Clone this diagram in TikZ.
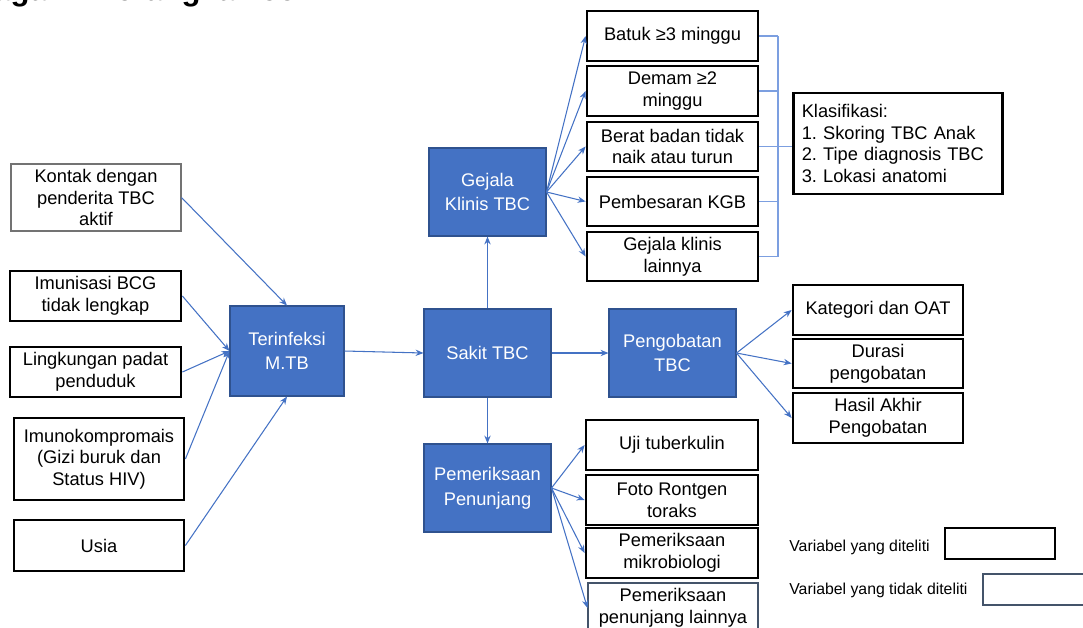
\documentclass[tikz,border=0pt]{standalone}
\usepackage{fontspec}
\setmainfont{Liberation Sans}
\frenchspacing
\definecolor{tbblue}{HTML}{4472C4}
\definecolor{tbedge}{HTML}{2F528F}
\definecolor{tbline}{HTML}{4472C4}
\definecolor{tbbracket}{HTML}{7C9FE0}
\definecolor{tbslate}{HTML}{44546A}
\usetikzlibrary{arrows.meta,positioning,calc}

\begin{document}
\begin{tikzpicture}[x=0.02cm, y=-0.02cm,
    varbox/.style={rectangle, draw=black, line width=1.6pt, fill=white, align=center,
      inner sep=1pt, font=\fontsize{10.4}{12.3}\selectfont},
    thinbox/.style={varbox, line width=0.6pt},
    bluebox/.style={rectangle, draw=tbedge, line width=0.6pt, fill=tbblue, align=center,
      text=white, minimum width=2.54cm, minimum height=1.76cm,
      font=\fontsize{10.4}{14}\selectfont},
    arrow/.style={-{Stealth[length=4.5pt, width=3.6pt]}, tbline, line width=0.6pt},
    bracket/.style={tbbracket, line width=0.6pt},
    legend/.style={font=\fontsize{9}{11}\selectfont, anchor=west, inner sep=0pt}
  ]
    \useasboundingbox (0,0) rectangle (1083,627);
    \clip (0,0) rectangle (1083,627);
    % Title, cut at the top edge
    \node[font=\bfseries\fontsize{17.7}{20}\selectfont, anchor=base east, inner sep=0pt]
      (title) at (318,0.5) {Bagan : Kerangka Teori};
    % Risk factors
    \node[thinbox, draw=black!55, minimum width=3.4cm, minimum height=1.34cm] (kontak) at (96,197.5)
      {Kontak dengan\\penderita TBC\\aktif};
    \node[varbox, minimum width=3.42cm, minimum height=1.0cm] (bcg) at (95.5,296)
      {Imunisasi BCG\\tidak lengkap};
    \node[varbox, minimum width=3.42cm, minimum height=1.0cm] (padat) at (95.5,372)
      {Lingkungan padat\\penduduk};
    \node[varbox, minimum width=3.4cm, minimum height=1.64cm] (imuno) at (99,459)
      {Imunokompromais\\(Gizi buruk dan\\Status HIV)};
    \node[varbox, minimum width=3.4cm, minimum height=1.02cm] (usia) at (99,545.5)
      {Usia};
    % Main chain
    \node[bluebox, minimum width=2.28cm, minimum height=1.8cm] (infeksi) at (287,351)
      {Terinfeksi\\M.TB};
    \node[bluebox] (sakit) at (487.5,353) {Sakit TBC};
    \node[bluebox, minimum width=2.34cm] (gejala) at (487.5,192) {Gejala\\Klinis TBC};
    \node[bluebox] (periksa) at (487.5,488) {Pemeriksaan\\Penunjang};
    \node[bluebox] (obat) at (672.5,353) {Pengobatan\\TBC};
    % Clinical signs
    \node[varbox, minimum width=3.42cm, minimum height=1.0cm] (batuk) at (672.5,36)
      {Batuk ≥3 minggu};
    \node[varbox, minimum width=3.42cm, minimum height=1.0cm] (demam) at (672.5,91)
      {Demam ≥2\\minggu};
    \node[varbox, minimum width=3.42cm, minimum height=0.98cm] (berat) at (672.5,146.5)
      {Berat badan tidak\\naik atau turun};
    \node[varbox, minimum width=3.42cm, minimum height=0.98cm] (kgb) at (672.5,201.5)
      {Pembesaran KGB};
    \node[varbox, minimum width=3.42cm, minimum height=0.98cm] (gejlain) at (672.5,256.5)
      {Gejala klinis\\lainnya};
    \node[varbox, align=left, text width=3.85cm, minimum height=2.02cm, inner sep=0.17cm]
      (klas) at (898,143.5)
      {Klasifikasi:\\1. Skoring TBC Anak\\2. Tipe diagnosis TBC\\3. Lokasi anatomi};
    % Treatment
    \node[varbox, minimum width=3.4cm, minimum height=1.0cm] (oat) at (878,310)
      {Kategori dan OAT};
    \node[varbox, minimum width=3.4cm, minimum height=0.98cm] (durasi) at (878,363.5)
      {Durasi\\pengobatan};
    \node[varbox, minimum width=3.4cm, minimum height=1.0cm] (hasil) at (878,418)
      {Hasil Akhir\\Pengobatan};
    % Supporting tests
    \node[varbox, minimum width=3.44cm, minimum height=1.0cm] (uji) at (672,445)
      {Uji tuberkulin};
    \node[varbox, minimum width=3.44cm, minimum height=1.0cm] (foto) at (672,500)
      {Foto Rontgen\\toraks};
    \node[varbox, minimum width=3.44cm, minimum height=1.0cm] (mikro) at (672,553)
      {Pemeriksaan\\mikrobiologi};
    \node[thinbox, draw=tbslate, minimum width=3.4cm, minimum height=1.0cm] (periklain) at (673,608)
      {Pemeriksaan\\penunjang lainnya};
    % Legend
    \node[legend] (legteliti) at (789,547) {Variabel yang diteliti};
    \node[varbox, minimum width=2.2cm, minimum height=0.62cm] (legbox) at (1000,543.5) {};
    \node[legend] (legtidak) at (789,590) {Variabel yang tidak diteliti};
    \node[thinbox, draw=tbslate, minimum width=2.2cm, minimum height=0.62cm] (legthin) at (1038,589.5) {};
    % Arrows into infection
    \draw[arrow] (kontak.east) -- (infeksi.north);
    \draw[arrow] (bcg.east) -- (infeksi.west);
    \draw[arrow] (padat.east) -- (infeksi.west);
    \draw[arrow] (imuno.east) -- (infeksi.west);
    \draw[arrow] (usia.east) -- (infeksi.south);
    % Chain
    \draw[arrow] (infeksi.east) -- (sakit.west);
    \draw[arrow] (sakit.north) -- (gejala.south);
    \draw[arrow] (sakit.south) -- (periksa.north);
    \draw[arrow] (sakit.east) -- (obat.west);
    % Fan outs
    \draw[arrow] (gejala.east) -- (batuk.west);
    \draw[arrow] (gejala.east) -- (demam.west);
    \draw[arrow] (gejala.east) -- (berat.west);
    \draw[arrow] (gejala.east) -- (kgb.west);
    \draw[arrow] (gejala.east) -- (gejlain.west);
    \draw[arrow] (obat.east) -- (oat.west);
    \draw[arrow] (obat.east) -- (durasi.west);
    \draw[arrow] (obat.east) -- (hasil.west);
    \draw[arrow] (periksa.east) -- (uji.west);
    \draw[arrow] (periksa.east) -- (foto.west);
    \draw[arrow] (periksa.east) -- (mikro.west);
    \draw[arrow] (periksa.east) -- (periklain.west);
    % Bracket to classification
    \coordinate (brtop) at (778,36);
    \coordinate (brbot) at (778,256.5);
    \draw[bracket] (brtop) -- (brbot);
    \draw[bracket] (batuk.east) -- (brtop);
    \draw[bracket] (demam.east) -- (demam.east -| brtop);
    \draw[bracket] (kgb.east) -- (kgb.east -| brtop);
    \draw[bracket] (gejlain.east) -- (brbot);
    \draw[bracket] (berat.east) -- (berat.east -| klas.west);
\end{tikzpicture}
\end{document}
